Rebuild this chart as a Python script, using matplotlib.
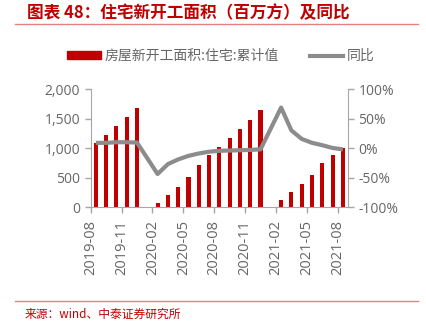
import matplotlib
matplotlib.use("Agg")
import matplotlib.pyplot as plt
from matplotlib.lines import Line2D
from matplotlib.patches import Patch
import numpy as np

plt.rcParams["font.family"] = ["Open Sans", "Noto Sans CJK SC", "DejaVu Sans"]

# ── data ────────────────────────────────────────────────────────────────────
months = ["2019-08", "2019-09", "2019-10", "2019-11", "2019-12",
          "2020-01", "2020-02", "2020-03", "2020-04", "2020-05", "2020-06",
          "2020-07", "2020-08", "2020-09", "2020-10", "2020-11", "2020-12",
          "2021-01", "2021-02", "2021-03", "2021-04", "2021-05", "2021-06",
          "2021-07", "2021-08"]
area = [1080, 1225, 1372, 1519, 1683,
        np.nan, 73, 208, 350, 508, 717,
        881, 1017, 1169, 1322, 1475, 1644,
        np.nan, 124, 265, 395, 547, 745,
        881, 1000]
yoy = [9.0, 9.0, 10.0, 10.0, 9.5,
       np.nan, -43.7, -27.0, -19.0, -13.0, -9.0,
       -6.0, -4.5, -4.0, -3.5, -3.0, -2.0,
       np.nan, 68.6, 30.0, 15.6, 9.0, 5.0,
       0.3, -2.0]
tick_labels = months[::3]

RED = "#C00000"
GRAY = "#8C8C8C"
TXT = "#666666"

fig = plt.figure(figsize=(4.26, 3.24), dpi=100)
ax = fig.add_axes([90.7 / 426, 1 - 207.3 / 324, 257.3 / 426, 118.3 / 324])
ax2 = ax.twinx()

x = np.arange(len(months))
ax.bar(x, area, width=0.4, color=RED, zorder=2)

yoy_arr = np.array(yoy)
ok = ~np.isnan(yoy_arr)
ax2.plot(x[ok], yoy_arr[ok], color=GRAY, lw=3, solid_capstyle="butt", zorder=3)

ax.set_xlim(-0.5, len(months) - 0.5)
ax.set_ylim(0, 2000)
ax.set_yticks([0, 500, 1000, 1500, 2000])
ax.set_yticklabels(["0", "500", "1,000", "1,500", "2,000"])
ax2.set_ylim(-100, 100)
ax2.set_yticks([-100, -50, 0, 50, 100])
ax2.set_yticklabels(["-100%", "-50%", "0%", "50%", "100%"])

ax.set_xticks(np.arange(0, len(months), 3) - 0.5)
ax.set_xticklabels(tick_labels, rotation=90)

for a in (ax, ax2):
    for s in a.spines.values():
        s.set_visible(False)
    a.tick_params(colors="#A6A6A6", labelcolor=TXT, labelsize=10, length=4, width=1)
ax.tick_params(axis="x", labelsize=10.5, pad=5)
ax.spines["left"].set_visible(True)
ax.spines["bottom"].set_visible(True)
ax2.spines["right"].set_visible(True)
for s in (ax.spines["left"], ax.spines["bottom"], ax2.spines["right"]):
    s.set_color("#A6A6A6")
ax.set_zorder(ax2.get_zorder() - 1)
ax2.patch.set_visible(False)
ax.patch.set_visible(False)

handles = [Patch(color=RED), Line2D([0], [0], color=GRAY, lw=3)]
fig.legend(handles, ["房屋新开工面积:住宅:累计值", "同比"],
           loc="center", bbox_to_anchor=(221 / 426, 1 - 56 / 324), ncol=2,
           frameon=False, labelcolor=TXT, handlelength=2.4,
           handleheight=0.45, columnspacing=2.2, handletextpad=0.3,
           prop={"family": ["Noto Sans CJK SC"], "size": 10})

# title and source
fig.text(27 / 426, 1 - 13 / 324, "图表 48：住宅新开工面积（百万方）及同比",
         color=RED, fontsize=12, fontweight="bold", va="center",
         family=["Noto Sans CJK SC"])
fig.add_artist(Line2D([15 / 426, 418 / 426], [1 - 24 / 324] * 2,
                      color="#E88080", lw=1))
fig.add_artist(Line2D([15 / 426, 418 / 426], [1 - 301 / 324] * 2,
                      color="#E88080", lw=1))
fig.text(25 / 426, 1 - 314 / 324, "来源：wind、中泰证券研究所",
         color=RED, fontsize=8.5, va="center", family=["Noto Sans CJK SC"])

fig.savefig("out.png", dpi=100)
